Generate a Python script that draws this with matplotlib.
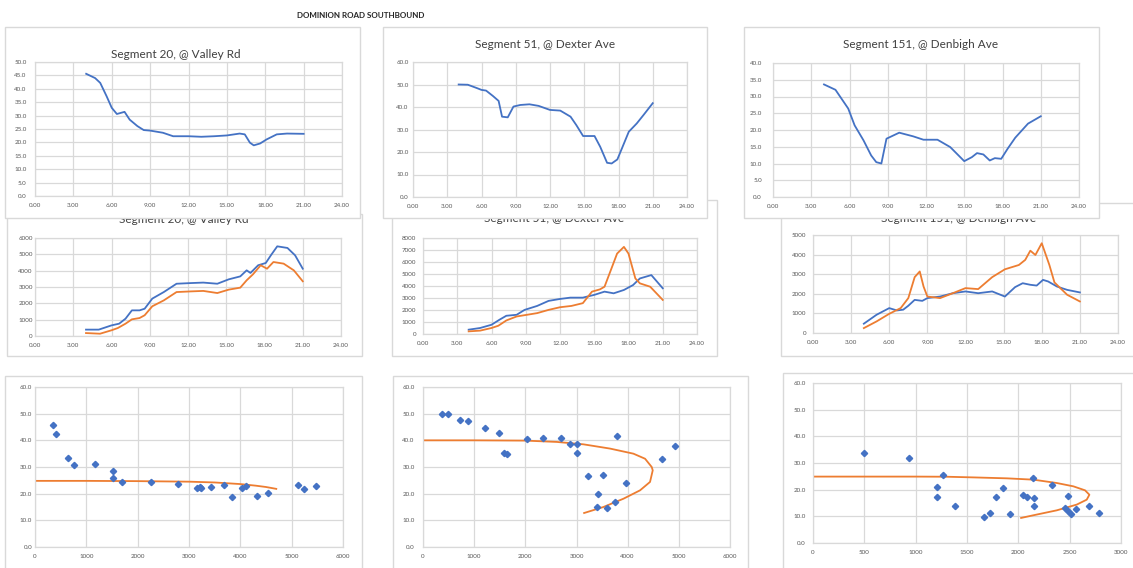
import matplotlib
matplotlib.use("Agg")
import matplotlib.pyplot as plt
from matplotlib.patches import Rectangle
from matplotlib.ticker import FuncFormatter, MultipleLocator

W, H = 1133, 568
plt.rcParams['font.family'] = ['Lato', 'DejaVu Sans']

BLUE = '#4472C4'
ORANGE = '#ED7D31'
GRID = '#d9d9d9'
TICK = '#595959'

# ---------------- speed by time of day (km/h) ----------------
t_spd_20 = [4.0, 4.7, 5.1, 5.6, 6.0, 6.4, 6.7, 7.0, 7.4, 8.0, 8.5, 9.0, 10.0, 10.8, 12.0, 13.0,
            14.0, 15.0, 16.0, 16.4, 16.8, 17.1, 17.6, 18.1, 18.9, 19.7, 21.0]
spd_20 = [45.6, 44.0, 42.2, 37.2, 32.9, 30.6, 31.0, 31.4, 28.5, 26.1, 24.6, 24.4, 23.6, 22.3, 22.3, 22.1,
          22.3, 22.6, 23.3, 23.0, 19.9, 18.9, 19.6, 21.1, 23.0, 23.3, 23.2]

t_spd_51 = [4.0, 4.8, 5.6, 6.0, 6.4, 7.0, 7.5, 7.8, 8.3, 8.8, 9.4, 10.2, 11.0, 12.0, 12.9, 13.8,
            14.3, 14.9, 15.9, 16.4, 17.0, 17.4, 17.9, 18.3, 18.9, 19.6, 20.2, 21.0]
spd_51 = [50.0, 49.9, 48.4, 47.6, 47.3, 44.9, 42.7, 35.7, 35.4, 40.2, 40.9, 41.2, 40.5, 38.7, 38.4, 35.7,
          32.0, 27.1, 27.1, 22.3, 15.2, 14.9, 16.7, 21.6, 29.0, 32.7, 36.5, 41.7]

t_spd_151 = [4.0, 4.9, 5.9, 6.4, 7.1, 7.7, 8.1, 8.5, 8.9, 9.9, 11.0, 11.8, 12.9, 13.9, 15.0, 15.6,
             16.0, 16.5, 17.0, 17.4, 17.9, 18.4, 19.0, 20.0, 21.0]
spd_151 = [33.6, 32.0, 26.4, 21.4, 16.9, 12.4, 10.4, 10.0, 17.4, 19.2, 18.1, 17.1, 17.1, 14.9, 10.7, 11.9,
           13.1, 12.7, 10.9, 11.6, 11.4, 14.4, 17.7, 21.9, 24.1]

# ---------------- volume by time of day (two series) ----------------
t_vol_20_a = [4.0, 5.0, 6.0, 6.6, 7.1, 7.6, 8.2, 8.6, 9.2, 10.1, 11.1, 12.2, 13.2, 14.3, 15.2, 16.1,
              16.6, 16.9, 17.5, 18.1, 18.5, 19.0, 19.8, 20.4, 21.0]
vol_20_a = [390, 390, 650, 755, 1060, 1570, 1570, 1670, 2290, 2690, 3200, 3240, 3270, 3200, 3470, 3650,
            4020, 3860, 4330, 4470, 4940, 5490, 5390, 4940, 4120]
t_vol_20_b = [4.0, 5.1, 6.0, 6.5, 7.1, 7.6, 8.2, 8.6, 9.2, 10.1, 11.1, 12.2, 13.2, 14.3, 15.2, 16.1,
              16.6, 17.1, 17.7, 18.2, 18.7, 19.5, 20.3, 21.0]
vol_20_b = [180, 140, 350, 490, 755, 1020, 1100, 1270, 1820, 2180, 2690, 2730, 2760, 2630, 2840, 2960,
            3410, 3780, 4330, 4120, 4530, 4430, 4020, 3350]

t_vol_51_a = [4.0, 5.0, 6.0, 6.7, 7.3, 8.2, 8.9, 10.0, 11.0, 12.0, 12.9, 14.0, 15.0, 15.9, 16.7, 17.6,
              18.4, 19.0, 20.0, 21.0]
vol_51_a = [360, 500, 770, 1190, 1520, 1600, 2010, 2340, 2760, 2920, 3030, 3030, 3260, 3530, 3390, 3670,
            4080, 4630, 4910, 3810]
t_vol_51_b = [4.0, 5.0, 6.0, 6.6, 7.3, 8.2, 9.1, 10.0, 11.0, 12.0, 13.0, 14.0, 14.8, 15.5, 15.9, 16.4,
              17.0, 17.6, 18.0, 18.6, 19.0, 19.9, 21.0]
vol_51_b = [220, 280, 500, 690, 1130, 1460, 1600, 1740, 2010, 2230, 2340, 2570, 3530, 3720, 3940, 5190,
            6700, 7260, 6700, 4630, 4220, 3940, 2840]

t_vol_151_a = [4.0, 5.0, 6.0, 6.6, 7.1, 7.5, 8.0, 8.6, 9.0, 10.0, 11.0, 12.0, 13.0, 14.1, 15.1, 15.9,
               16.5, 17.1, 17.6, 18.1, 18.5, 19.2, 20.0, 21.0]
vol_151_a = [475, 930, 1270, 1150, 1190, 1390, 1690, 1640, 1780, 1860, 2030, 2120, 2030, 2120, 1860, 2340,
             2540, 2460, 2420, 2710, 2630, 2370, 2200, 2070]
t_vol_151_b = [4.0, 5.0, 6.0, 6.9, 7.5, 8.0, 8.4, 8.7, 9.0, 10.0, 11.0, 12.0, 13.0, 14.1, 15.1, 16.2,
               16.7, 17.1, 17.5, 18.0, 18.6, 19.0, 20.0, 21.0]
vol_151_b = [250, 590, 980, 1270, 1780, 2850, 3140, 2370, 1860, 1780, 2030, 2290, 2240, 2850, 3250, 3470,
             3730, 4200, 3980, 4580, 3470, 2580, 1950, 1610]

# ---------------- speed vs volume scatter, with fitted speed-flow curve ----------------
sc_vol_20 = [358, 410, 650, 760, 1170, 1515, 1510, 1690, 2256, 2776, 3153, 3205, 3231, 3426, 3686, 3843,
             4031, 4109, 4324, 4532, 5124, 5234, 5481]
sc_spd_20 = [45.6, 42.3, 33.4, 30.6, 31.3, 28.4, 25.9, 24.4, 24.4, 23.5, 22.0, 22.6, 22.0, 22.6, 23.3, 18.9,
             22.1, 23.0, 19.0, 20.4, 23.1, 21.8, 22.9]
fit_vol_20 = [0, 1000, 2000, 3000, 3500, 4000, 4300, 4500, 4700]
fit_spd_20 = [24.8, 24.8, 24.7, 24.5, 24.2, 23.6, 23.0, 22.5, 21.8]

sc_vol_51 = [371, 488, 716, 878, 1217, 1490, 1574, 1640, 2030, 2349, 2700, 2876, 3019, 3019, 3234, 3422,
             3520, 3800, 3403, 3598, 3754, 3975, 4665, 4925]
sc_spd_51 = [49.9, 49.9, 47.5, 47.4, 44.6, 42.6, 35.3, 35.0, 40.5, 41.0, 40.9, 38.5, 38.5, 35.4, 26.6, 20.0,
             26.9, 41.6, 15.0, 14.6, 16.9, 24.0, 33.1, 37.9]
fit_vol_51 = [0, 1000, 2000, 2615, 3136, 3657, 4112, 4340, 4470, 4490, 4437, 4242, 3917, 3526, 3149]
fit_spd_51 = [40.0, 40.0, 39.9, 39.4, 38.5, 36.9, 35.0, 33.1, 30.0, 28.75, 24.4, 21.25, 18.1, 15.0, 12.75]

sc_vol_151 = [500, 931, 1271, 1203, 1207, 1385, 1670, 1726, 1787, 1855, 1914, 2047, 2082, 2141, 2150, 2150,
              2329, 2455, 2481, 2488, 2511, 2559, 2692, 2786]
sc_spd_151 = [33.75, 31.9, 25.6, 20.9, 17.25, 14.0, 9.75, 11.25, 17.4, 20.6, 10.75, 18.0, 17.1, 24.25, 17.0, 14.0,
              21.9, 13.25, 17.6, 11.9, 11.0, 12.6, 14.0, 11.25]
fit_vol_151 = [0, 500, 1000, 1300, 1563, 1888, 2147, 2374, 2536, 2650, 2692, 2666, 2569, 2374, 2147, 2027]
fit_spd_151 = [24.9, 24.9, 24.9, 24.85, 24.6, 24.25, 23.75, 22.5, 21.25, 19.75, 18.1, 16.25, 14.4, 12.25, 10.4, 9.4]

fig = plt.figure(figsize=(W / 100, H / 100), dpi=100)


def frect(x0, y0, x1, y1):
    return [x0 / W, 1 - y1 / H, (x1 - x0) / W, (y1 - y0) / H]


def panel(box, plot, z, title=None, title_xy=None, title_va='center', xpad=5, ypad=4):
    bax = fig.add_axes(frect(*box), zorder=z)
    bax.set_axis_off()
    bax.add_patch(Rectangle((0, 0), 1, 1, transform=bax.transAxes, facecolor='white',
                            edgecolor=GRID, lw=1.0, clip_on=False))
    if title:
        bax.text(title_xy[0] / W, 1 - title_xy[1] / H, title, transform=fig.transFigure,
                 ha='center', va=title_va, fontsize=8.5, color='#404040')
    ax = fig.add_axes(frect(*plot), zorder=z + 0.5)
    ax.set_facecolor('white')
    ax.grid(True, color=GRID, lw=0.9)
    ax.set_axisbelow(True)
    for s in ax.spines.values():
        s.set_color(GRID)
        s.set_linewidth(0.9)
    ax.tick_params(length=0, labelsize=4.5, colors=TICK)
    ax.tick_params(axis='x', pad=xpad)
    ax.tick_params(axis='y', pad=ypad)
    return ax


fmt2 = FuncFormatter(lambda v, p: f"{v:.2f}")
fmt1 = FuncFormatter(lambda v, p: f"{v:.1f}")
fmt0 = FuncFormatter(lambda v, p: f"{v:.0f}")


def time_axis(ax):
    ax.set_xlim(0, 24)
    ax.xaxis.set_major_locator(MultipleLocator(3))
    ax.xaxis.set_major_formatter(fmt2)


LW = 1.3

# middle row: volumes (drawn first so the upper panels overlap them)
ax4 = panel((7, 214, 362, 356), (35, 238, 341, 336), 1, "Segment 20, @ Valley Rd", (184, 223),
            title_va='baseline', ypad=1.5)
time_axis(ax4)
ax4.set_ylim(0, 6000)
ax4.yaxis.set_major_locator(MultipleLocator(1000))
ax4.yaxis.set_major_formatter(fmt0)
ax4.plot(t_vol_20_a, vol_20_a, color=BLUE, lw=LW)
ax4.plot(t_vol_20_b, vol_20_b, color=ORANGE, lw=LW)

ax5 = panel((392, 200, 717, 356), (423, 238, 697, 334), 1, "Segment 51, @ Dexter Ave", (554, 222),
            title_va='baseline', ypad=5)
time_axis(ax5)
ax5.set_ylim(0, 8000)
ax5.yaxis.set_major_locator(MultipleLocator(1000))
ax5.yaxis.set_major_formatter(fmt0)
ax5.plot(t_vol_51_a, vol_51_a, color=BLUE, lw=LW)
ax5.plot(t_vol_51_b, vol_51_b, color=ORANGE, lw=LW)

ax6 = panel((781, 203, 1150, 356), (813, 235, 1118, 333), 1, "Segment 151, @ Denbigh Ave", (959, 222),
            title_va='baseline', ypad=5)
time_axis(ax6)
ax6.set_ylim(0, 5000)
ax6.yaxis.set_major_locator(MultipleLocator(1000))
ax6.yaxis.set_major_formatter(fmt0)
ax6.plot(t_vol_151_a, vol_151_a, color=BLUE, lw=LW)
ax6.plot(t_vol_151_b, vol_151_b, color=ORANGE, lw=LW)

# top row: speeds
ax1 = panel((5, 27, 360, 218), (35, 62, 342, 196), 2, "Segment 20, @ Valley Rd", (176, 55), ypad=6)
time_axis(ax1)
ax1.set_ylim(0, 50)
ax1.yaxis.set_major_locator(MultipleLocator(5))
ax1.yaxis.set_major_formatter(fmt1)
ax1.plot(t_spd_20, spd_20, color=BLUE, lw=LW)

ax2 = panel((383, 27, 707, 218), (413, 62, 687, 197), 2, "Segment 51, @ Dexter Ave", (545, 44), ypad=3)
time_axis(ax2)
ax2.set_ylim(0, 60)
ax2.yaxis.set_major_locator(MultipleLocator(10))
ax2.yaxis.set_major_formatter(fmt1)
ax2.plot(t_spd_51, spd_51, color=BLUE, lw=LW)

ax3 = panel((744, 27, 1099, 218), (773, 63, 1079, 197), 2, "Segment 151, @ Denbigh Ave", (921, 44), ypad=8)
time_axis(ax3)
ax3.set_ylim(0, 40)
ax3.yaxis.set_major_locator(MultipleLocator(5))
ax3.yaxis.set_major_formatter(fmt1)
ax3.plot(t_spd_151, spd_151, color=BLUE, lw=LW)

# bottom row: speed against volume
scatters = [
    ((5, 376, 362, 580), (35, 387, 343, 547), 6000, 1000, 2,
     sc_vol_20, sc_spd_20, fit_vol_20, fit_spd_20),
    ((393, 376, 748, 580), (423, 387, 730, 547), 6000, 1000, 6,
     sc_vol_51, sc_spd_51, fit_vol_51, fit_spd_51),
    ((783, 373, 1150, 580), (813, 383, 1121, 543), 3000, 500, 5,
     sc_vol_151, sc_spd_151, fit_vol_151, fit_spd_151),
]
for box, plot, xmax, xstep, ypad, sx, sy, fx, fy in scatters:
    ax = panel(box, plot, 1, ypad=ypad)
    ax.set_xlim(0, xmax)
    ax.xaxis.set_major_locator(MultipleLocator(xstep))
    ax.xaxis.set_major_formatter(fmt0)
    ax.set_ylim(0, 60)
    ax.yaxis.set_major_locator(MultipleLocator(10))
    ax.yaxis.set_major_formatter(fmt1)
    ax.plot(fx, fy, color=ORANGE, lw=LW, zorder=2)
    ax.plot(sx, sy, ls='none', marker='D', ms=3.2, color=BLUE, zorder=3)

fig.text(361 / W, 1 - 15 / H, "DOMINION ROAD SOUTHBOUND", ha='center', va='center',
         fontsize=5.8, fontweight='bold', color='#262626')

fig.savefig("out.png", dpi=100)
